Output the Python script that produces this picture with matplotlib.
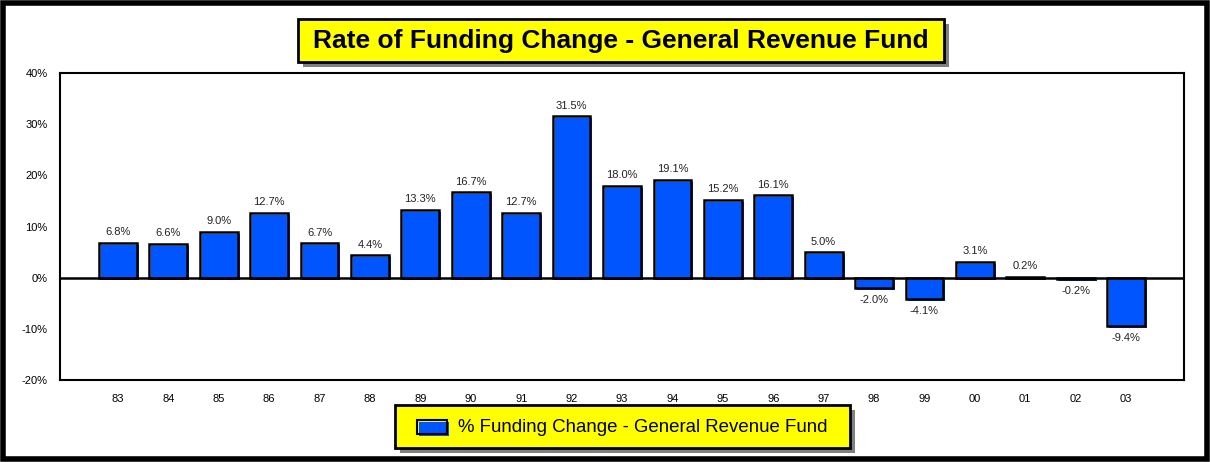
import matplotlib
matplotlib.use("Agg")
import matplotlib.pyplot as plt
import matplotlib.transforms as mtransforms
from matplotlib.patches import Rectangle

plt.rcParams['font.family'] = ['Liberation Sans', 'DejaVu Sans']

years = ["83", "84", "85", "86", "87", "88", "89", "90", "91", "92", "93",
         "94", "95", "96", "97", "98", "99", "00", "01", "02", "03"]
pct_change = [6.8, 6.6, 9.0, 12.7, 6.7, 4.4, 13.3, 16.7, 12.7, 31.5, 18.0,
              19.1, 15.2, 16.1, 5.0, -2.0, -4.1, 3.1, 0.2, -0.2, -9.4]
y_ticks = [-20, -10, 0, 10, 20, 30, 40]

title = "Rate of Funding Change - General Revenue Fund"
legend_label = "% Funding Change - General Revenue Fund"
blue = "#0055FF"

W, H = 1210, 462
fig = plt.figure(figsize=(W / 100, H / 100), dpi=100)
fig.patch.set_facecolor("white")

ax = fig.add_axes([60 / W, 1 - 380 / H, (1184 - 60) / W, (380 - 73) / H])
x = list(range(len(years)))

shift = mtransforms.offset_copy(ax.transData, fig=fig, x=2, y=-2, units='dots')
ax.bar(x, pct_change, width=0.75, color=blue, edgecolor='none',
       transform=shift, zorder=2)
ax.bar(x, pct_change, width=0.75, facecolor='none', edgecolor='black',
       linewidth=1.8, zorder=3)
ax.axhline(0, color='black', linewidth=1.8, zorder=4)

for xi, v in zip(x, pct_change):
    if v >= 0:
        ax.annotate(f"{v:.1f}%", (xi, v), xytext=(0, 4), textcoords='offset points',
                    ha='center', va='bottom', fontsize=8, color='#222222')
    else:
        ax.annotate(f"{v:.1f}%", (xi, v), xytext=(0, -5), textcoords='offset points',
                    ha='center', va='top', fontsize=8, color='#222222')

ax.set_xlim(-1.15, len(years) - 1 + 1.15)
ax.set_ylim(-20, 40)
ax.set_yticks(y_ticks)
ax.set_yticklabels([f"{t}%" for t in y_ticks], fontsize=8)
ax.set_xticks(x)
ax.set_xticklabels(years, fontsize=8)
ax.tick_params(axis='x', length=0, pad=10)
ax.tick_params(axis='y', length=0, pad=9)
for s in ax.spines.values():
    s.set_linewidth(1.5)


def shadow_box(x0, y0, x1, y1, lw=2.0):
    fx0, fx1 = x0 / W, x1 / W
    fy0, fy1 = 1 - y1 / H, 1 - y0 / H
    fig.patches.append(Rectangle((fx0 + 5 / W, fy0 - 5 / H), fx1 - fx0, fy1 - fy0,
                                 transform=fig.transFigure, facecolor='#808080',
                                 edgecolor='none', zorder=1))
    fig.patches.append(Rectangle((fx0, fy0), fx1 - fx0, fy1 - fy0,
                                 transform=fig.transFigure, facecolor='#FFFF00',
                                 edgecolor='black', linewidth=lw, zorder=2))


shadow_box(298, 19, 944, 62)
fig.text((298 + 944) / 2 / W, 1 - 41 / H, title, ha='center', va='center',
         fontsize=19, fontweight='bold', color='black', zorder=3)

shadow_box(395, 405, 850, 448)
fig.patches.append(Rectangle((419 / W, 1 - 436 / H), 30 / W, 14 / H,
                             transform=fig.transFigure, facecolor=blue,
                             edgecolor='none', zorder=3))
fig.patches.append(Rectangle((417 / W, 1 - 434 / H), 30 / W, 14 / H,
                             transform=fig.transFigure, facecolor='none',
                             edgecolor='black', linewidth=1.5, zorder=4))
fig.text(458 / W, 1 - 428 / H, legend_label, ha='left', va='center',
         fontsize=13.4, color='black', zorder=4)

fig.patches.append(Rectangle((3 / W, 3 / H), (W - 6) / W, (H - 6) / H,
                             transform=fig.transFigure, facecolor='none',
                             edgecolor='black', linewidth=4, zorder=5))

fig.savefig("out.png", dpi=100)
